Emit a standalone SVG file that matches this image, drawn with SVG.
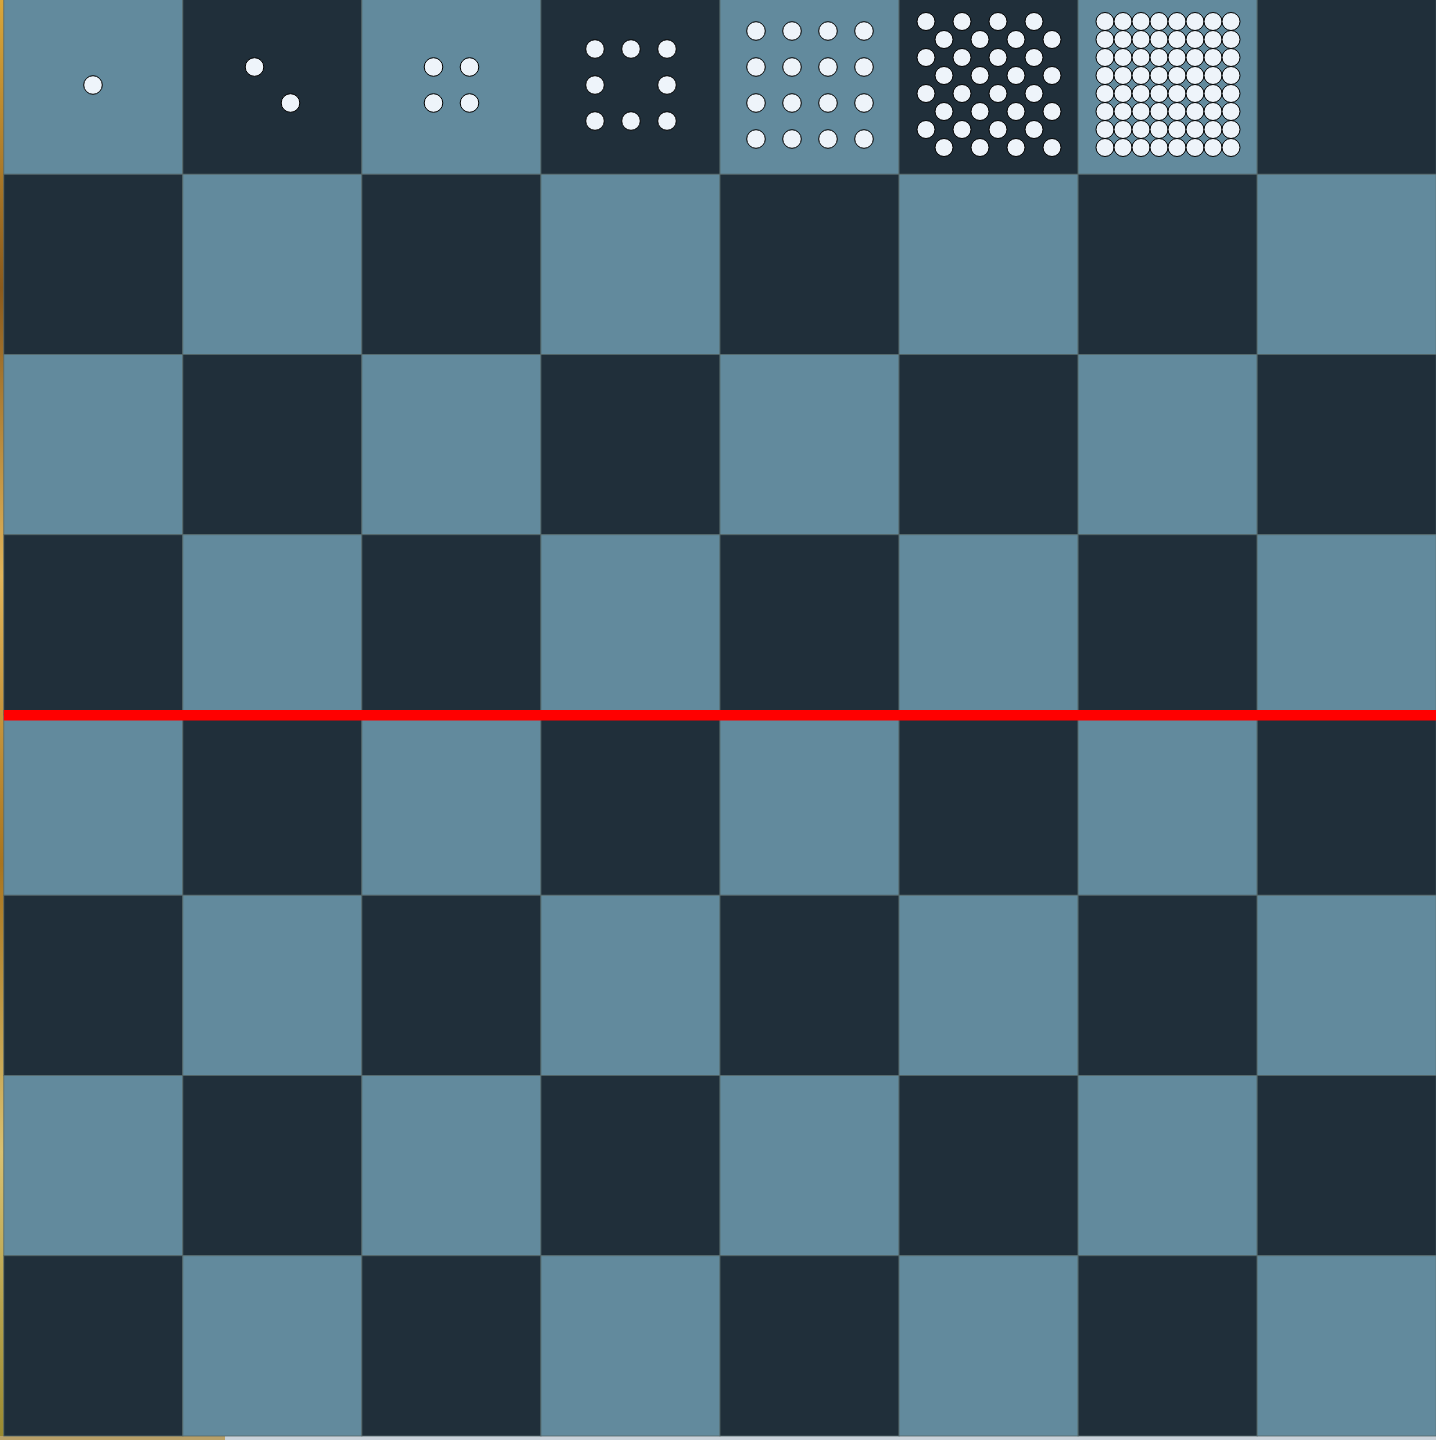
<svg xmlns="http://www.w3.org/2000/svg" width="1436" height="1440" viewBox="0 0 1436 1440">
<style>
.l{fill:#628a9d;stroke:#55686a;stroke-width:0.8}
.d{fill:#202f3a;stroke:#55686a;stroke-width:0.8}
.c{fill:#eef4fa;stroke:#000;stroke-width:1}
</style>
<defs>
<linearGradient id="wood" x1="0" y1="0" x2="0" y2="1">
<stop offset="0" stop-color="#d9a63a"/>
<stop offset="0.2" stop-color="#8a5a1c"/>
<stop offset="0.4" stop-color="#e0b45a"/>
<stop offset="0.6" stop-color="#a8741e"/>
<stop offset="0.8" stop-color="#d8c070"/>
<stop offset="1" stop-color="#9a8a30"/>
</linearGradient>
</defs>
<rect x="0" y="0" width="1436" height="1440" fill="#c9d2da"/>
<rect x="0" y="0" width="4" height="1440" fill="url(#wood)"/>
<rect x="0" y="1436" width="225" height="4" fill="#b8a068"/>
<g id="board">
<rect class="l" x="3.8" y="-6" width="179.05" height="180.25"/>
<rect class="d" x="182.85" y="-6" width="179.05" height="180.25"/>
<rect class="l" x="361.9" y="-6" width="179.05" height="180.25"/>
<rect class="d" x="540.95" y="-6" width="179.05" height="180.25"/>
<rect class="l" x="720" y="-6" width="179.05" height="180.25"/>
<rect class="d" x="899.05" y="-6" width="179.05" height="180.25"/>
<rect class="l" x="1078.1" y="-6" width="179.05" height="180.25"/>
<rect class="d" x="1257.15" y="-6" width="179.05" height="180.25"/>

<rect class="d" x="3.8" y="174.25" width="179.05" height="180.25"/>
<rect class="l" x="182.85" y="174.25" width="179.05" height="180.25"/>
<rect class="d" x="361.9" y="174.25" width="179.05" height="180.25"/>
<rect class="l" x="540.95" y="174.25" width="179.05" height="180.25"/>
<rect class="d" x="720" y="174.25" width="179.05" height="180.25"/>
<rect class="l" x="899.05" y="174.25" width="179.05" height="180.25"/>
<rect class="d" x="1078.1" y="174.25" width="179.05" height="180.25"/>
<rect class="l" x="1257.15" y="174.25" width="179.05" height="180.25"/>

<rect class="l" x="3.8" y="354.5" width="179.05" height="180.25"/>
<rect class="d" x="182.85" y="354.5" width="179.05" height="180.25"/>
<rect class="l" x="361.9" y="354.5" width="179.05" height="180.25"/>
<rect class="d" x="540.95" y="354.5" width="179.05" height="180.25"/>
<rect class="l" x="720" y="354.5" width="179.05" height="180.25"/>
<rect class="d" x="899.05" y="354.5" width="179.05" height="180.25"/>
<rect class="l" x="1078.1" y="354.5" width="179.05" height="180.25"/>
<rect class="d" x="1257.15" y="354.5" width="179.05" height="180.25"/>

<rect class="d" x="3.8" y="534.75" width="179.05" height="180.25"/>
<rect class="l" x="182.85" y="534.75" width="179.05" height="180.25"/>
<rect class="d" x="361.9" y="534.75" width="179.05" height="180.25"/>
<rect class="l" x="540.95" y="534.75" width="179.05" height="180.25"/>
<rect class="d" x="720" y="534.75" width="179.05" height="180.25"/>
<rect class="l" x="899.05" y="534.75" width="179.05" height="180.25"/>
<rect class="d" x="1078.1" y="534.75" width="179.05" height="180.25"/>
<rect class="l" x="1257.15" y="534.75" width="179.05" height="180.25"/>

<rect class="l" x="3.8" y="715" width="179.05" height="180.25"/>
<rect class="d" x="182.85" y="715" width="179.05" height="180.25"/>
<rect class="l" x="361.9" y="715" width="179.05" height="180.25"/>
<rect class="d" x="540.95" y="715" width="179.05" height="180.25"/>
<rect class="l" x="720" y="715" width="179.05" height="180.25"/>
<rect class="d" x="899.05" y="715" width="179.05" height="180.25"/>
<rect class="l" x="1078.1" y="715" width="179.05" height="180.25"/>
<rect class="d" x="1257.15" y="715" width="179.05" height="180.25"/>

<rect class="d" x="3.8" y="895.25" width="179.05" height="180.25"/>
<rect class="l" x="182.85" y="895.25" width="179.05" height="180.25"/>
<rect class="d" x="361.9" y="895.25" width="179.05" height="180.25"/>
<rect class="l" x="540.95" y="895.25" width="179.05" height="180.25"/>
<rect class="d" x="720" y="895.25" width="179.05" height="180.25"/>
<rect class="l" x="899.05" y="895.25" width="179.05" height="180.25"/>
<rect class="d" x="1078.1" y="895.25" width="179.05" height="180.25"/>
<rect class="l" x="1257.15" y="895.25" width="179.05" height="180.25"/>

<rect class="l" x="3.8" y="1075.5" width="179.05" height="180.25"/>
<rect class="d" x="182.85" y="1075.5" width="179.05" height="180.25"/>
<rect class="l" x="361.9" y="1075.5" width="179.05" height="180.25"/>
<rect class="d" x="540.95" y="1075.5" width="179.05" height="180.25"/>
<rect class="l" x="720" y="1075.5" width="179.05" height="180.25"/>
<rect class="d" x="899.05" y="1075.5" width="179.05" height="180.25"/>
<rect class="l" x="1078.1" y="1075.5" width="179.05" height="180.25"/>
<rect class="d" x="1257.15" y="1075.5" width="179.05" height="180.25"/>

<rect class="d" x="3.8" y="1255.75" width="179.05" height="180.25"/>
<rect class="l" x="182.85" y="1255.75" width="179.05" height="180.25"/>
<rect class="d" x="361.9" y="1255.75" width="179.05" height="180.25"/>
<rect class="l" x="540.95" y="1255.75" width="179.05" height="180.25"/>
<rect class="d" x="720" y="1255.75" width="179.05" height="180.25"/>
<rect class="l" x="899.05" y="1255.75" width="179.05" height="180.25"/>
<rect class="d" x="1078.1" y="1255.75" width="179.05" height="180.25"/>
<rect class="l" x="1257.15" y="1255.75" width="179.05" height="180.25"/>
</g>
<g id="cell1">
<circle class="c" cx="93" cy="85" r="9.3"/>
</g>
<g id="cell2">
<circle class="c" cx="254.5" cy="67" r="9.3"/>
<circle class="c" cx="290.5" cy="103" r="9.3"/>
</g>
<g id="cell3">
<circle class="c" cx="433.5" cy="67" r="9.3"/>
<circle class="c" cx="469.5" cy="67" r="9.3"/>
<circle class="c" cx="433.5" cy="103" r="9.3"/>
<circle class="c" cx="469.5" cy="103" r="9.3"/>
</g>
<g id="cell4">
<circle class="c" cx="595" cy="49" r="9.3"/>
<circle class="c" cx="631" cy="49" r="9.3"/>
<circle class="c" cx="667" cy="49" r="9.3"/>
<circle class="c" cx="595" cy="85" r="9.3"/>
<circle class="c" cx="667" cy="85" r="9.3"/>
<circle class="c" cx="595" cy="121" r="9.3"/>
<circle class="c" cx="631" cy="121" r="9.3"/>
<circle class="c" cx="667" cy="121" r="9.3"/>
</g>
<g id="cell5">
<circle class="c" cx="756" cy="31" r="9.3"/><circle class="c" cx="792" cy="31" r="9.3"/><circle class="c" cx="828" cy="31" r="9.3"/><circle class="c" cx="864" cy="31" r="9.3"/>
<circle class="c" cx="756" cy="67" r="9.3"/><circle class="c" cx="792" cy="67" r="9.3"/><circle class="c" cx="828" cy="67" r="9.3"/><circle class="c" cx="864" cy="67" r="9.3"/>
<circle class="c" cx="756" cy="103" r="9.3"/><circle class="c" cx="792" cy="103" r="9.3"/><circle class="c" cx="828" cy="103" r="9.3"/><circle class="c" cx="864" cy="103" r="9.3"/>
<circle class="c" cx="756" cy="139" r="9.3"/><circle class="c" cx="792" cy="139" r="9.3"/><circle class="c" cx="828" cy="139" r="9.3"/><circle class="c" cx="864" cy="139" r="9.3"/>
</g>
<g id="cell6">
<circle class="c" cx="926" cy="21.5" r="9"/><circle class="c" cx="962" cy="21.5" r="9"/><circle class="c" cx="998" cy="21.5" r="9"/><circle class="c" cx="1034" cy="21.5" r="9"/>
<circle class="c" cx="944" cy="39.5" r="9"/><circle class="c" cx="980" cy="39.5" r="9"/><circle class="c" cx="1016" cy="39.5" r="9"/><circle class="c" cx="1052" cy="39.5" r="9"/>
<circle class="c" cx="926" cy="57.5" r="9"/><circle class="c" cx="962" cy="57.5" r="9"/><circle class="c" cx="998" cy="57.5" r="9"/><circle class="c" cx="1034" cy="57.5" r="9"/>
<circle class="c" cx="944" cy="75.5" r="9"/><circle class="c" cx="980" cy="75.5" r="9"/><circle class="c" cx="1016" cy="75.5" r="9"/><circle class="c" cx="1052" cy="75.5" r="9"/>
<circle class="c" cx="926" cy="93.5" r="9"/><circle class="c" cx="962" cy="93.5" r="9"/><circle class="c" cx="998" cy="93.5" r="9"/><circle class="c" cx="1034" cy="93.5" r="9"/>
<circle class="c" cx="944" cy="111.5" r="9"/><circle class="c" cx="980" cy="111.5" r="9"/><circle class="c" cx="1016" cy="111.5" r="9"/><circle class="c" cx="1052" cy="111.5" r="9"/>
<circle class="c" cx="926" cy="129.5" r="9"/><circle class="c" cx="962" cy="129.5" r="9"/><circle class="c" cx="998" cy="129.5" r="9"/><circle class="c" cx="1034" cy="129.5" r="9"/>
<circle class="c" cx="944" cy="147.5" r="9"/><circle class="c" cx="980" cy="147.5" r="9"/><circle class="c" cx="1016" cy="147.5" r="9"/><circle class="c" cx="1052" cy="147.5" r="9"/>
</g>
<g id="cell7">
<circle class="c" cx="1105" cy="21.5" r="9"/><circle class="c" cx="1123" cy="21.5" r="9"/><circle class="c" cx="1141" cy="21.5" r="9"/><circle class="c" cx="1159" cy="21.5" r="9"/><circle class="c" cx="1177" cy="21.5" r="9"/><circle class="c" cx="1195" cy="21.5" r="9"/><circle class="c" cx="1213" cy="21.5" r="9"/><circle class="c" cx="1231" cy="21.5" r="9"/>
<circle class="c" cx="1105" cy="39.5" r="9"/><circle class="c" cx="1123" cy="39.5" r="9"/><circle class="c" cx="1141" cy="39.5" r="9"/><circle class="c" cx="1159" cy="39.5" r="9"/><circle class="c" cx="1177" cy="39.5" r="9"/><circle class="c" cx="1195" cy="39.5" r="9"/><circle class="c" cx="1213" cy="39.5" r="9"/><circle class="c" cx="1231" cy="39.5" r="9"/>
<circle class="c" cx="1105" cy="57.5" r="9"/><circle class="c" cx="1123" cy="57.5" r="9"/><circle class="c" cx="1141" cy="57.5" r="9"/><circle class="c" cx="1159" cy="57.5" r="9"/><circle class="c" cx="1177" cy="57.5" r="9"/><circle class="c" cx="1195" cy="57.5" r="9"/><circle class="c" cx="1213" cy="57.5" r="9"/><circle class="c" cx="1231" cy="57.5" r="9"/>
<circle class="c" cx="1105" cy="75.5" r="9"/><circle class="c" cx="1123" cy="75.5" r="9"/><circle class="c" cx="1141" cy="75.5" r="9"/><circle class="c" cx="1159" cy="75.5" r="9"/><circle class="c" cx="1177" cy="75.5" r="9"/><circle class="c" cx="1195" cy="75.5" r="9"/><circle class="c" cx="1213" cy="75.5" r="9"/><circle class="c" cx="1231" cy="75.5" r="9"/>
<circle class="c" cx="1105" cy="93.5" r="9"/><circle class="c" cx="1123" cy="93.5" r="9"/><circle class="c" cx="1141" cy="93.5" r="9"/><circle class="c" cx="1159" cy="93.5" r="9"/><circle class="c" cx="1177" cy="93.5" r="9"/><circle class="c" cx="1195" cy="93.5" r="9"/><circle class="c" cx="1213" cy="93.5" r="9"/><circle class="c" cx="1231" cy="93.5" r="9"/>
<circle class="c" cx="1105" cy="111.5" r="9"/><circle class="c" cx="1123" cy="111.5" r="9"/><circle class="c" cx="1141" cy="111.5" r="9"/><circle class="c" cx="1159" cy="111.5" r="9"/><circle class="c" cx="1177" cy="111.5" r="9"/><circle class="c" cx="1195" cy="111.5" r="9"/><circle class="c" cx="1213" cy="111.5" r="9"/><circle class="c" cx="1231" cy="111.5" r="9"/>
<circle class="c" cx="1105" cy="129.5" r="9"/><circle class="c" cx="1123" cy="129.5" r="9"/><circle class="c" cx="1141" cy="129.5" r="9"/><circle class="c" cx="1159" cy="129.5" r="9"/><circle class="c" cx="1177" cy="129.5" r="9"/><circle class="c" cx="1195" cy="129.5" r="9"/><circle class="c" cx="1213" cy="129.5" r="9"/><circle class="c" cx="1231" cy="129.5" r="9"/>
<circle class="c" cx="1105" cy="147.5" r="9"/><circle class="c" cx="1123" cy="147.5" r="9"/><circle class="c" cx="1141" cy="147.5" r="9"/><circle class="c" cx="1159" cy="147.5" r="9"/><circle class="c" cx="1177" cy="147.5" r="9"/><circle class="c" cx="1195" cy="147.5" r="9"/><circle class="c" cx="1213" cy="147.5" r="9"/><circle class="c" cx="1231" cy="147.5" r="9"/>
</g>
<g id="divider">
<rect x="3.8" y="710" width="1432.2" height="10.5" fill="#ff0000"/>
</g>
</svg>
